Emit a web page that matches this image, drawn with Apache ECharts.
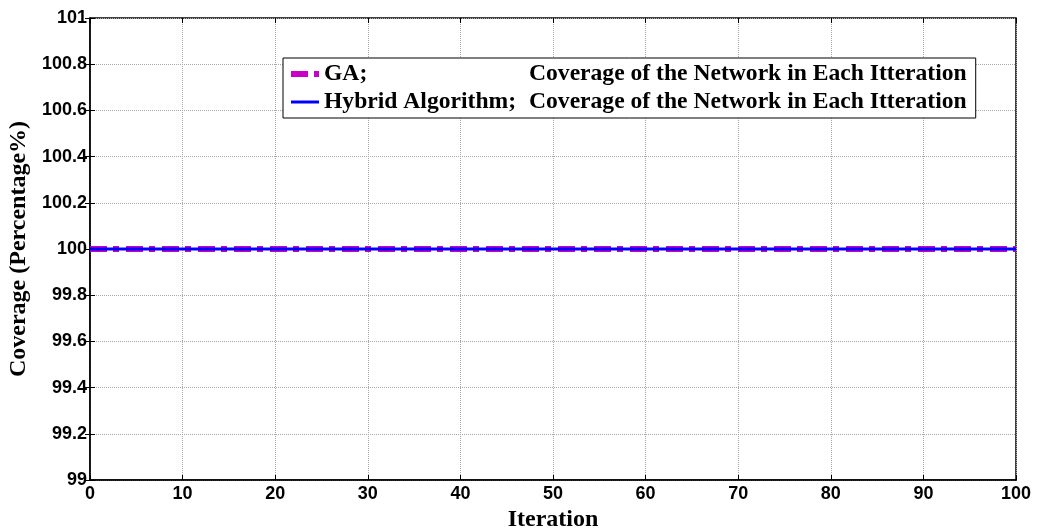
<!DOCTYPE html>
<html>
<head>
    <meta charset="utf-8">
    <script type="text/javascript" src="https://cdn.jsdelivr.net/npm/echarts@6/dist/echarts.min.js"></script>
    <style type="text/css">
        *{
            margin: 0;
            padding: 0;
        }
        body{
            background: #fff;
        }
        #main{
            width: 1041px;
            height: 529px;
        }
    </style>
</head>
<body>
<div id="main"></div>
<script type="text/javascript">
    // data
    var iterations = [0, 10, 20, 30, 40, 50, 60, 70, 80, 90, 100];
    var gaCoverage = [100, 100, 100, 100, 100, 100, 100, 100, 100, 100, 100];
    var hybridCoverage = [100, 100, 100, 100, 100, 100, 100, 100, 100, 100, 100];
    var seriesNames = ['GA', 'Hybrid Algorithm'];
    var legendSuffix = 'Coverage of the Network in Each Itteration';

    function pairs(xs, ys) {
        var out = [];
        for (var i = 0; i < xs.length; i++) out.push([xs[i], ys[i]]);
        return out;
    }

    var gaLine = {color: '#c800c8', width: 6, type: [17, 6, 6, 7]};
    var hybridLine = {color: '#0000ff', width: 3, type: 'solid'};

    var labelFont = {
        color: '#000',
        fontFamily: 'Liberation Sans',
        fontWeight: 'bold',
        fontSize: 18
    };
    var legendFont = {fontFamily: 'Liberation Serif', fontWeight: 'bold', fontSize: 23.6, lineHeight: 24, color: '#000'};
    var titleFont = {color: '#000', fontFamily: 'Liberation Serif', fontWeight: 'bold', fontSize: 24};
    var dotted = {show: true, lineStyle: {color: '#a8a8a8', type: [1, 1], width: 1}};
    var innerTick = {show: true, inside: true, length: 5, lineStyle: {color: '#000'}};

    var myChart = echarts.init(document.getElementById('main'));
    var option = {
        backgroundColor: '#fff',
        animation: false,
        grid: {
            left: 90,
            right: 25,
            top: 18,
            bottom: 49,
            outerBoundsMode: 'none',
            containLabel: false,
            show: true,
            borderColor: '#000',
            borderWidth: 1.5
        },
        legend: {
            left: 283,
            top: 58,
            orient: 'vertical',
            itemWidth: 28,
            itemHeight: 14,
            itemGap: 4,
            padding: [4, 9, 4, 5],
            backgroundColor: '#fff',
            borderColor: '#000',
            borderWidth: 1,
            borderRadius: 0,
            itemStyle: {opacity: 0},
            data: [
                {name: seriesNames[0], lineStyle: gaLine},
                {name: seriesNames[1], lineStyle: hybridLine}
            ],
            formatter: function (name) {
                return '{a|' + name + ';}{b|' + legendSuffix + '}';
            },
            textStyle: Object.assign({
                rich: {
                    a: Object.assign({width: 205}, legendFont),
                    b: legendFont
                }
            }, legendFont)
        },
        xAxis: [{
            type: 'value',
            min: 0,
            max: 100,
            interval: 10,
            name: 'Iteration',
            nameLocation: 'middle',
            nameGap: 23,
            nameTextStyle: titleFont,
            axisLine: {show: true, onZero: false, lineStyle: {color: '#000', width: 1.5}},
            axisTick: innerTick,
            axisLabel: Object.assign({margin: 5}, labelFont),
            splitLine: dotted
        }, {
            type: 'value',
            position: 'top',
            min: 0,
            max: 100,
            interval: 10,
            axisLine: {show: false},
            axisTick: innerTick,
            axisLabel: {show: false},
            splitLine: {show: false}
        }],
        yAxis: [{
            type: 'value',
            min: 99,
            max: 101,
            interval: 0.2,
            name: 'Coverage (Percentage%)',
            nameLocation: 'middle',
            nameGap: 54,
            nameTextStyle: titleFont,
            axisLine: {show: true, onZero: false, lineStyle: {color: '#000', width: 1.5}},
            axisTick: innerTick,
            axisLabel: Object.assign({margin: 3}, labelFont),
            splitLine: dotted
        }, {
            type: 'value',
            position: 'right',
            min: 99,
            max: 101,
            interval: 0.2,
            axisLine: {show: false},
            axisTick: innerTick,
            axisLabel: {show: false},
            splitLine: {show: false}
        }],
        series: [{
            name: seriesNames[0],
            type: 'line',
            symbol: 'none',
            data: pairs(iterations, gaCoverage),
            lineStyle: gaLine,
            itemStyle: {color: gaLine.color},
            z: 2
        }, {
            name: seriesNames[1],
            type: 'line',
            symbol: 'none',
            data: pairs(iterations, hybridCoverage),
            lineStyle: hybridLine,
            itemStyle: {color: hybridLine.color},
            z: 3
        }]
    };
    myChart.setOption(option);
</script>
</body>
</html>
